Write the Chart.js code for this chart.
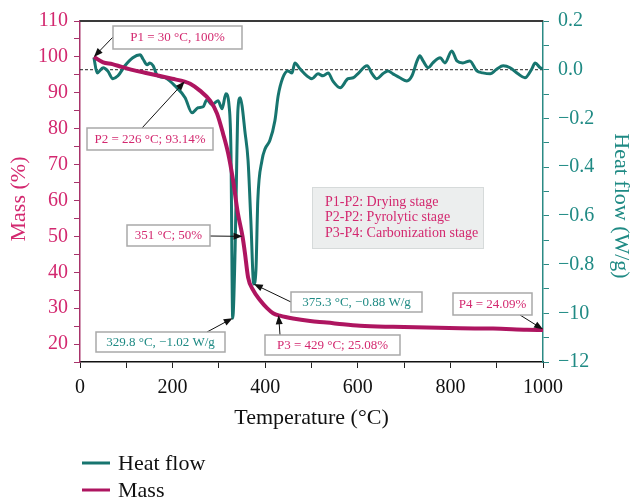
<!DOCTYPE html>
<html>
<head>
<meta charset="utf-8">
<script src="https://cdn.jsdelivr.net/npm/chart.js@4/dist/chart.umd.min.js"></script>
<style>
  html, body { margin: 0; padding: 0; background: #fff; }
</style>
</head>
<body>
<canvas id="chart" width="633" height="500"></canvas>
<script>
// values
var heatTemps = [30, 37, 50, 60, 71, 82, 97, 114, 130, 136, 145, 151, 158, 166, 173, 184, 205, 227, 242, 255,
  266, 274, 285, 298, 307, 315, 322, 326, 329.8, 335, 339, 341, 346, 350, 356, 363, 369, 375.3, 380, 384,
  393, 400, 410, 421, 428, 438, 449, 458, 464, 475, 490, 501, 514, 525, 536, 546, 562, 579, 590, 600,
  620, 631, 641, 654, 665, 676, 691, 706, 717, 728, 734, 741, 752, 762, 778, 788, 803, 814, 827, 842,
  857, 870, 886, 901, 914, 929, 946, 961, 976, 983, 994, 1000];
var heatFlow = [0.05, -0.013, 0.008, -0.005, -0.037, -0.025, 0.016, 0.049, 0.061, 0.044, 0.02, 0.028, 0.016, -0.021, -0.029, -0.033, -0.066, -0.115, -0.177, -0.156,
  -0.152, -0.123, -0.144, -0.127, -0.16, -0.099, -0.148, -0.332, -1.02, -0.74, -0.332, -0.168, -0.115, -0.148, -0.25, -0.373, -0.619, -0.88, -0.823, -0.537,
  -0.373, -0.324, -0.291, -0.209, -0.107, -0.033, -0.005, -0.013, 0.028, 0.004, -0.025, -0.037, -0.017, -0.025, -0.013, -0.046, -0.074, -0.037, -0.033, -0.017,
  0.016, -0.017, -0.037, -0.017, -0.005, -0.017, -0.033, -0.046, -0.025, 0.036, 0.057, 0.036, 0.008, 0.028, 0.049, 0.028, 0.077, 0.036, 0.028, 0.036,
  -0.005, -0.013, -0.017, 0.004, 0.016, 0.008, -0.017, -0.033, 0.004, 0.028, 0.008, 0.004];

var massTemps = [30, 50, 70, 90, 115, 140, 168, 199, 226, 238, 259, 281, 296, 309, 320, 330, 341, 351, 356, 363,
  374, 389, 404, 417, 432, 460, 497, 533, 568, 605, 676, 749, 821, 892, 965, 1000];
var massValues = [100, 98.5, 98, 97.2, 96.3, 95.6, 94.8, 93.9, 93.1, 92.5, 90.6, 87.8, 84.2, 78.6, 73.1, 66.1, 56.4, 50, 45.6, 38.6,
  35, 32.2, 30, 28.6, 27.9, 27.1, 26.4, 26, 25.5, 25.1, 24.8, 24.6, 24.4, 24.3, 24, 23.9];

var tempTicks = [0, 200, 400, 600, 800, 1000];
var massTicks = [20, 30, 40, 50, 60, 70, 80, 90, 100, 110];
var heatTickValues = [0.2, 0, -0.2, -0.4, -0.6, -0.8, -1.0, -1.2];
var heatTickLabels = ['0.2', '0.0', '\u22120.2', '\u22120.4', '\u22120.6', '\u22120.8', '\u221210', '\u221212'];

var stages = ['P1-P2: Drying stage', 'P2-P2: Pyrolytic stage', 'P3-P4: Carbonization stage'];

var PINK = '#d3286f';
var MASS_LINE = '#ae1560';
var TEAL = '#17756f';
var TEAL_TEXT = '#1f8a84';
var SERIF = "'Liberation Serif', 'Times New Roman', serif";

// label boxes: [left, top, width, height], arrow start, arrow tip in data units
var notes = [
  {text: 'P1 = 30 \u00B0C, 100%', color: PINK, box: [113, 26, 129, 23], from: [113, 37], at: [30, 100], axis: 'yMass'},
  {text: 'P2 = 226 \u00B0C; 93.14%', color: PINK, box: [87, 128, 126, 22], from: [142, 128], at: [226, 93.14], axis: 'yMass'},
  {text: '351 \u00B0C; 50%', color: PINK, box: [127, 225, 83, 21], from: [210, 236], at: [351, 50], axis: 'yMass'},
  {text: '329.8 \u00B0C, \u22121.02 W/g', color: TEAL_TEXT, box: [96, 332, 129, 20], from: [207, 332], at: [329.8, -1.02], axis: 'yHeat'},
  {text: '375.3 \u00B0C, \u22120.88 W/g', color: TEAL_TEXT, box: [291, 292, 131, 20], from: [291, 302], at: [375.3, -0.88], axis: 'yHeat'},
  {text: 'P3 = 429 \u00B0C; 25.08%', color: PINK, box: [265, 335, 135, 20], from: [280, 335], at: [429, 28], axis: 'yMass'},
  {text: 'P4 = 24.09%', color: PINK, box: [453, 293, 79, 22], from: [520, 315], at: [1000, 24.09], axis: 'yMass'}
];

function toPoints(xs, ys) {
  return xs.map(function(x, i) { return {x: x, y: ys[i]}; });
}

function arrow(ctx, x0, y0, x1, y1) {
  var a = Math.atan2(y1 - y0, x1 - x0);
  ctx.beginPath();
  ctx.moveTo(x0, y0);
  ctx.lineTo(x1 - 6 * Math.cos(a), y1 - 6 * Math.sin(a));
  ctx.stroke();
  ctx.beginPath();
  ctx.moveTo(x1, y1);
  ctx.lineTo(x1 - 9 * Math.cos(a) + 3.5 * Math.sin(a), y1 - 9 * Math.sin(a) - 3.5 * Math.cos(a));
  ctx.lineTo(x1 - 9 * Math.cos(a) - 3.5 * Math.sin(a), y1 - 9 * Math.sin(a) + 3.5 * Math.cos(a));
  ctx.closePath();
  ctx.fill();
}

function sideTitle(ctx, text, x, y, angle, color) {
  ctx.save();
  ctx.translate(x, y);
  ctx.rotate(angle);
  ctx.fillStyle = color;
  ctx.font = '22px ' + SERIF;
  ctx.textAlign = 'center';
  ctx.textBaseline = 'middle';
  ctx.fillText(text, 0, 0);
  ctx.restore();
}

var extras = {
  id: 'extras',
  beforeDatasetsDraw: function(chart) {
    var ctx = chart.ctx, area = chart.chartArea;
    var y0 = chart.scales.yHeat.getPixelForValue(0);
    ctx.save();
    ctx.strokeStyle = '#222';
    ctx.lineWidth = 1;
    ctx.setLineDash([3, 2]);
    ctx.beginPath();
    ctx.moveTo(area.left, y0);
    ctx.lineTo(area.right, y0);
    ctx.stroke();
    ctx.restore();
  },
  afterDraw: function(chart) {
    var ctx = chart.ctx, area = chart.chartArea;
    ctx.save();
    // top frame line
    ctx.strokeStyle = '#3a3a3a';
    ctx.lineWidth = 2;
    ctx.beginPath();
    ctx.moveTo(area.left, area.top);
    ctx.lineTo(area.right, area.top);
    ctx.stroke();

    // axis titles
    sideTitle(ctx, 'Mass (%)', 19, 199, -Math.PI / 2, PINK);
    sideTitle(ctx, 'Heat flow (W/g)', 621, 206, Math.PI / 2, TEAL_TEXT);

    // stage box
    ctx.fillStyle = '#eceeee';
    ctx.fillRect(312, 187, 171, 61);
    ctx.strokeStyle = '#d6dada';
    ctx.lineWidth = 1;
    ctx.strokeRect(312.5, 187.5, 171, 61);
    ctx.font = '14px ' + SERIF;
    ctx.fillStyle = PINK;
    ctx.textBaseline = 'middle';
    ctx.textAlign = 'left';
    stages.forEach(function(s, i) { ctx.fillText(s, 325, 202 + i * 15.5); });

    // callouts
    notes.forEach(function(n) {
      var b = n.box;
      var tx = chart.scales.x.getPixelForValue(n.at[0]);
      var ty = chart.scales[n.axis].getPixelForValue(n.at[1]);
      ctx.strokeStyle = '#111';
      ctx.fillStyle = '#111';
      ctx.lineWidth = 1;
      arrow(ctx, n.from[0], n.from[1], tx, ty);
      ctx.fillStyle = '#fff';
      ctx.fillRect(b[0], b[1], b[2], b[3]);
      ctx.strokeStyle = '#a9a9a9';
      ctx.lineWidth = 1.5;
      ctx.strokeRect(b[0], b[1], b[2], b[3]);
      ctx.fillStyle = n.color;
      ctx.font = '13px ' + SERIF;
      ctx.textAlign = 'center';
      ctx.fillText(n.text, b[0] + b[2] / 2, b[1] + b[3] / 2 + 0.5);
    });

    // legend
    ctx.textAlign = 'left';
    ctx.font = '22px ' + SERIF;
    chart.data.datasets.forEach(function(ds, i) {
      var y = 463 + i * 27;
      ctx.strokeStyle = ds.borderColor;
      ctx.lineWidth = 3;
      ctx.beginPath();
      ctx.moveTo(82, y);
      ctx.lineTo(110, y);
      ctx.stroke();
      ctx.fillStyle = '#111';
      ctx.fillText(ds.label, 118, y + 1);
    });
    ctx.restore();
  }
};

var config = {
  type: 'line',
  data: {
    datasets: [{
      label: 'Heat flow',
      data: toPoints(heatTemps, heatFlow),
      borderColor: TEAL,
      borderWidth: 3,
      pointRadius: 0,
      cubicInterpolationMode: 'monotone',
      yAxisID: 'yHeat',
      order: 1
    }, {
      label: 'Mass',
      data: toPoints(massTemps, massValues),
      borderColor: MASS_LINE,
      borderWidth: 4,
      pointRadius: 0,
      cubicInterpolationMode: 'monotone',
      yAxisID: 'yMass',
      order: 0
    }]
  },
  options: {
    responsive: false,
    animation: false,
    layout: {padding: {top: 20, bottom: 69, left: 0, right: 0}},
    plugins: {legend: {display: false}, tooltip: {enabled: false}},
    scales: {
      x: {
        type: 'linear', min: 0, max: 1000,
        afterFit: function(s) { s.height = 69; },
        ticks: {
          stepSize: 100, autoSkip: false, maxRotation: 0, color: '#111', padding: 8,
          font: {family: SERIF, size: 20},
          callback: function(v) { return tempTicks.indexOf(v) >= 0 ? String(v) : ''; }
        },
        grid: {drawOnChartArea: false, tickLength: 6, tickColor: '#222'},
        border: {color: '#111', width: 1.5},
        title: {display: true, text: 'Temperature (\u00B0C)', color: '#111', font: {family: SERIF, size: 22}, padding: 0}
      },
      yMass: {
        position: 'left', min: 15, max: 110,
        afterFit: function(s) { s.width = 80; },
        ticks: {
          stepSize: 5, autoSkip: false, color: PINK, padding: 6,
          font: {family: SERIF, size: 20},
          callback: function(v) { return massTicks.indexOf(v) >= 0 ? String(v) : ''; }
        },
        grid: {drawOnChartArea: false, tickLength: 6, tickColor: '#a8336a'},
        border: {color: '#a8336a', width: 1.5}
      },
      yHeat: {
        position: 'right', min: -1.2, max: 0.2,
        afterFit: function(s) { s.width = 90; },
        ticks: {
          stepSize: 0.1, autoSkip: false, color: TEAL_TEXT, padding: 9,
          font: {family: SERIF, size: 20},
          callback: function(v) {
            for (var i = 0; i < heatTickValues.length; i++) {
              if (Math.abs(heatTickValues[i] - v) < 1e-6) return heatTickLabels[i];
            }
            return '';
          }
        },
        grid: {drawOnChartArea: false, tickLength: 6, tickColor: '#2b8a84'},
        border: {color: '#2b8a84', width: 1.5}
      }
    }
  },
  plugins: [extras]
};

var ctx = document.getElementById('chart').getContext('2d');
var chart = new Chart(ctx, config);
</script>
</body>
</html>
